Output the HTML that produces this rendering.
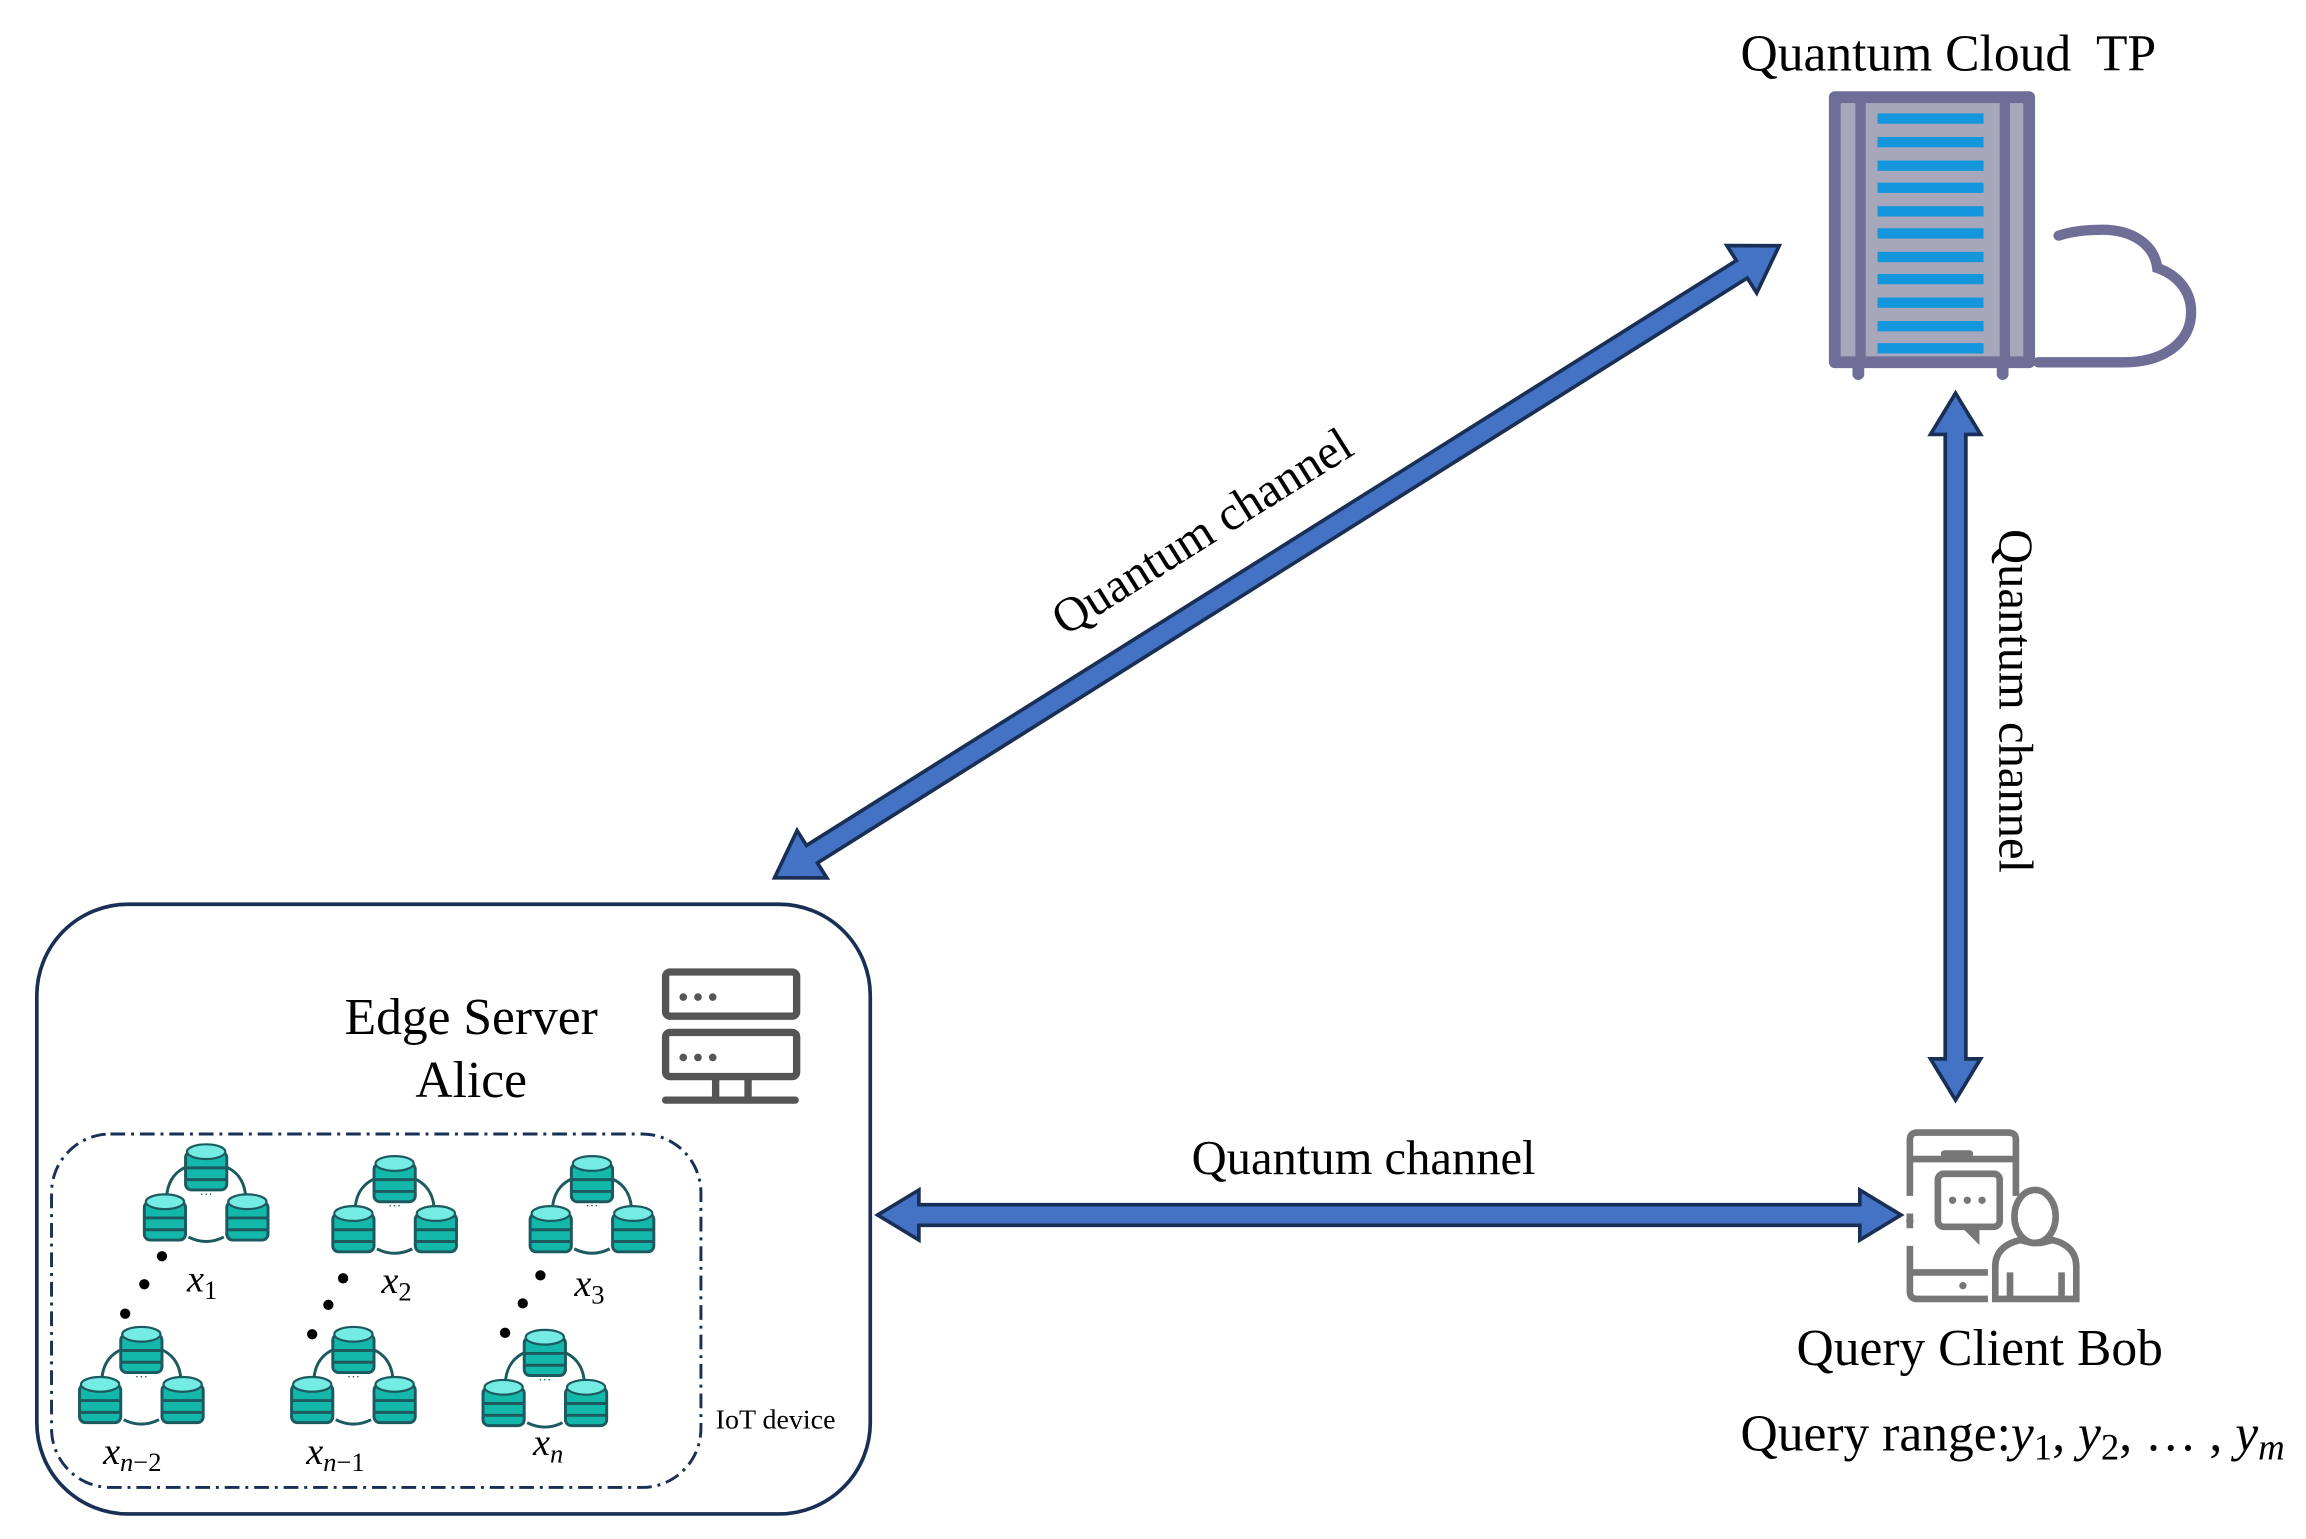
<!DOCTYPE html>
<html><head><meta charset="utf-8"><style>html,body{margin:0;padding:0;background:#fff}svg{display:block}</style></head>
<body>
<svg width="2306" height="1539" viewBox="0 0 1566 1045" preserveAspectRatio="none" xmlns="http://www.w3.org/2000/svg" font-family="'Liberation Serif', serif">
<defs>
<g id="cyl">
  <rect x="-14" y="-12" width="28" height="26" rx="4" fill="#14b8aa" stroke="#1d5a60" stroke-width="2"/>
  <line x1="-14" y1="-1" x2="14" y2="-1" stroke="#1d5a60" stroke-width="2"/>
  <line x1="-14" y1="7" x2="14" y2="7" stroke="#1d5a60" stroke-width="2"/>
  <ellipse cx="0" cy="-12" rx="13" ry="5" fill="#74ece4" stroke="#1d5a60" stroke-width="1.5"/>
</g>
<g id="cl">
  <path d="M-26 12 C-30 -10 -20 -22 0 -22 C20 -22 30 -10 26 12 M-12 28 Q0 34 12 28" fill="none" stroke="#1d5a60" stroke-width="2"/>
  <use href="#cyl" x="0" y="-18"/>
  <use href="#cyl" x="-28" y="16"/>
  <use href="#cyl" x="28" y="16"/>
  <text x="0" y="2" font-size="9" text-anchor="middle" fill="#1d5a60">···</text>
</g>
</defs>

<!-- Cloud TP -->
<text x="1182" y="48" font-size="35">Quantum Cloud&#160; TP</text>
<rect x="1242" y="62" width="140" height="188" rx="4" fill="#6f6e96"/>
<rect x="1250" y="70" width="10" height="172" fill="#a7a7bb"/>
<rect x="1365" y="70" width="9" height="172" fill="#a7a7bb"/>
<rect x="1267" y="70" width="91" height="172" fill="#a7a7bb"/>
<g fill="#1496dc">
<rect x="1275" y="77" width="72" height="7"/><rect x="1275" y="93" width="72" height="7"/><rect x="1275" y="109" width="72" height="7"/><rect x="1275" y="124" width="72" height="7"/><rect x="1275" y="140" width="72" height="7"/><rect x="1275" y="155" width="72" height="7"/><rect x="1275" y="171" width="72" height="7"/><rect x="1275" y="186" width="72" height="7"/><rect x="1275" y="202" width="72" height="7"/><rect x="1275" y="218" width="72" height="7"/><rect x="1275" y="233" width="72" height="7"/>
</g>
<rect x="1258" y="245" width="8" height="13" rx="4" fill="#6f6e96"/>
<rect x="1356" y="245" width="8" height="13" rx="4" fill="#6f6e96"/>
<path d="M1384 246 H1442 C1470 246 1488 232 1488 212 C1488 196 1477 186 1465 182 C1463 166 1448 156 1428 156 C1414 156 1404 158 1398 160" fill="none" stroke="#6f6e96" stroke-width="7" stroke-linecap="round"/>

<!-- arrows -->
<g fill="#4472c4" stroke="#1a2f55" stroke-width="2.5" stroke-linejoin="miter">
<polygon transform="translate(526,596) rotate(-32.17)" points="0,0 30,-19 30,-7 776,-7 776,-19 806,0 776,19 776,7 30,7 30,19"/>
<polygon transform="translate(1328,267) rotate(90)" points="0,0 28,-17 28,-7 452,-7 452,-17 480,0 452,17 452,7 28,7 28,17"/>
<polygon transform="translate(596,825)" points="0,0 28,-17 28,-7 667,-7 667,-17 695,0 667,17 667,7 28,7 28,17"/>
</g>
<text transform="translate(822,370) rotate(-32.17)" font-size="33" text-anchor="middle">Quantum channel</text>
<text transform="translate(1358,476) rotate(90)" font-size="33" text-anchor="middle">Quantum channel</text>
<text x="926" y="797" font-size="33" text-anchor="middle">Quantum channel</text>

<!-- Edge box -->
<rect x="25" y="614" width="566" height="414" rx="62" fill="none" stroke="#1a2f55" stroke-width="2.5"/>
<text x="320" y="702" font-size="35" text-anchor="middle">Edge Server</text>
<text x="320" y="745" font-size="35" text-anchor="middle">Alice</text>
<g fill="none" stroke="#555" stroke-width="5">
<rect x="452" y="660" width="89" height="30" rx="3"/>
<rect x="452" y="701" width="89" height="30" rx="3"/>
<path d="M486 731 V746 M508 731 V746"/>
<path d="M452 747 H540" stroke-linecap="round"/>
</g>
<g fill="#555"><circle cx="464" cy="677" r="2.6"/><circle cx="474" cy="677" r="2.6"/><circle cx="484" cy="677" r="2.6"/><circle cx="464" cy="718" r="2.6"/><circle cx="474" cy="718" r="2.6"/><circle cx="484" cy="718" r="2.6"/></g>

<rect x="35" y="770" width="441" height="240" rx="40" fill="none" stroke="#1a2f55" stroke-width="2" stroke-dasharray="10,4,2,4"/>
<text x="486" y="970" font-size="19">IoT device</text>

<use href="#cl" x="140" y="812"/>
<use href="#cl" x="268" y="820"/>
<use href="#cl" x="402" y="820"/>
<use href="#cl" x="96" y="936"/>
<use href="#cl" x="240" y="936"/>
<use href="#cl" x="370" y="938"/>
<g fill="#000">
<circle cx="110" cy="853" r="3.5"/><circle cx="98" cy="872" r="3.5"/><circle cx="85" cy="892" r="3.5"/>
<circle cx="233" cy="868" r="3.5"/><circle cx="223" cy="886" r="3.5"/><circle cx="212" cy="906" r="3.5"/>
<circle cx="367" cy="866" r="3.5"/><circle cx="355" cy="885" r="3.5"/><circle cx="343" cy="905" r="3.5"/>
</g>
<g font-size="26" font-style="italic">
<text x="127" y="877">x<tspan font-size="18" font-style="normal" dy="5">1</tspan></text>
<text x="259" y="878">x<tspan font-size="18" font-style="normal" dy="5">2</tspan></text>
<text x="390" y="880">x<tspan font-size="18" font-style="normal" dy="5">3</tspan></text>
<text x="70" y="994">x<tspan font-size="18" dy="5">n</tspan><tspan font-size="18" font-style="normal">−2</tspan></text>
<text x="208" y="994">x<tspan font-size="18" dy="5">n</tspan><tspan font-size="18" font-style="normal">−1</tspan></text>
<text x="362" y="988">x<tspan font-size="18" dy="5">n</tspan></text>
</g>

<!-- Query client -->
<g fill="none" stroke="#777" stroke-width="4.5">
<path d="M1350 882 H1302 Q1297 882 1297 877 V774 Q1297 769 1302 769 H1364 Q1369 769 1369 774 V812"/>
<path d="M1297 787 H1369 M1297 864 H1350"/>
<path d="M1297 812 V824 M1297 834 V846" stroke="#fff" stroke-width="6"/>
<rect x="1316" y="797" width="42" height="36" rx="4"/>
<path d="M1342 833 V840 L1335 833"/>
<ellipse cx="1382" cy="826" rx="14" ry="18"/>
<path d="M1355 882 V860 Q1355 846 1372 842 L1380 844 H1386 L1394 842 Q1410 846 1410 860 V882 Z"/>
<path d="M1365 864 V882 M1400 864 V882"/>
</g>
<rect x="1318" y="781" width="22" height="5" rx="2.5" fill="#777"/>
<g fill="#777"><circle cx="1326" cy="815" r="2.5"/><circle cx="1336" cy="815" r="2.5"/><circle cx="1346" cy="815" r="2.5"/><circle cx="1333" cy="873" r="2.5"/><circle cx="1297" cy="829" r="2.5"/></g>
<text x="1220" y="927" font-size="35">Query Client Bob</text>
<text x="1182" y="985" font-size="35">Query range:<tspan font-style="italic">y</tspan><tspan font-size="25" dy="6">1</tspan><tspan dy="-6">, </tspan><tspan font-style="italic">y</tspan><tspan font-size="25" dy="6">2</tspan><tspan dy="-6">, … , </tspan><tspan font-style="italic">y</tspan><tspan font-size="25" font-style="italic" dy="6">m</tspan></text>
</svg>
</body></html>
